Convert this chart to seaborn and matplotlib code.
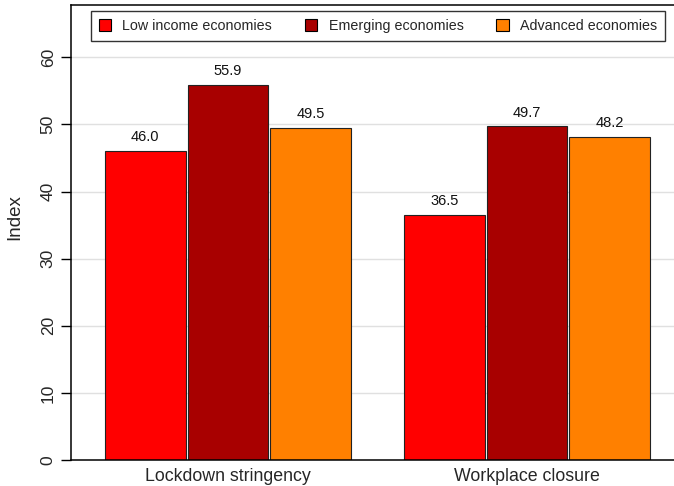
import matplotlib
matplotlib.use("Agg")
import matplotlib.pyplot as plt
import seaborn as sns
import pandas as pd

categories = ["Lockdown stringency", "Workplace closure"]
groups = ["Low income economies", "Emerging economies", "Advanced economies"]
low_income = [46.0, 36.5]
emerging = [55.9, 49.7]
advanced = [49.5, 48.2]
colors = ["#FF0000", "#A80000", "#FF8000"]
yticks = [0, 10, 20, 30, 40, 50, 60]

rows = []
for g, vals in zip(groups, [low_income, emerging, advanced]):
    for c, v in zip(categories, vals):
        rows.append({"category": c, "group": g, "value": v})
df = pd.DataFrame(rows)

sns.set_style("white")
plt.rcParams["font.family"] = ["Liberation Sans", "DejaVu Sans"]

fig = plt.figure(figsize=(6.74, 4.86), dpi=100)
ax = fig.add_axes([71 / 674, 26 / 486, 613 / 674, 455 / 486])

sns.barplot(data=df, x="category", y="value", hue="group", order=categories,
            hue_order=groups, palette=colors, width=0.828, gap=0.025,
            edgecolor="#222222", linewidth=0.8, saturation=1, ax=ax, legend=True,
            errorbar=None)

for cont in ax.containers:
    ax.bar_label(cont, fmt="%.1f", padding=5, fontsize=10.5, color="#111111")

ax.set_xlim(-0.524, 1.524)
ax.set_ylim(0, 67.8)
ax.set_yticks(yticks)
ax.set_yticklabels([str(t) for t in yticks], rotation=90, va="center", fontsize=12.5)
for t in yticks[1:]:
    ax.axhline(t, color="#e0e0e0", lw=1, zorder=0)
ax.set_axisbelow(True)
ax.tick_params(axis="y", length=7, width=1, color="black", pad=4, left=True)
ax.tick_params(axis="x", length=0, labelsize=12.8, pad=6)
ax.set_xlabel("")
ax.set_ylabel("Index", fontsize=13.5)
ax.yaxis.set_label_coords(-0.078, 0.534)
for s in ["left", "bottom", "top"]:
    ax.spines[s].set_visible(True)
    ax.spines[s].set_color("black")
    ax.spines[s].set_linewidth(1.1)
ax.spines["right"].set_visible(False)

ax.legend_.remove()
handles = [plt.Rectangle((0, 0), 1, 1, facecolor=c, edgecolor="black", lw=0.8) for c in colors]
leg = fig.legend(handles, groups, loc="center", bbox_to_anchor=(378 / 674, 1 - 26 / 486),
                 ncol=3, fontsize=10.3, frameon=True, fancybox=False, handlelength=0.85,
                 handleheight=0.85, handletextpad=0.8, columnspacing=2.3,
                 borderpad=0.55, edgecolor="black")
leg.get_frame().set_linewidth(1.0)

fig.savefig("out.png", dpi=100)
